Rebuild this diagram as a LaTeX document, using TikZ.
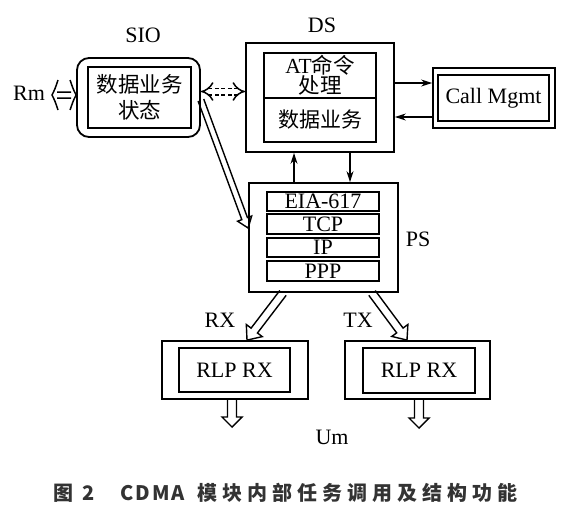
\documentclass[tikz,border=0pt]{standalone}
\usepackage{fontspec}
\setmainfont{Liberation Serif}
\newfontfamily\cjk{Noto Sans CJK SC}
\newfontfamily\capA[LetterSpace=25]{Noto Sans CJK SC}
\newfontfamily\capB[LetterSpace=10]{Noto Sans CJK SC}
\usetikzlibrary{arrows.meta,calc}
\newcommand\hollowarrow[5]{%
 \draw[harrow] let \p1=(#1), \p2=(#2), \n1={atan2(\y2-\y1,\x2-\x1)} in
 ($(\p1)+(\n1+90:#3)$) -- ($(\p2)+(\n1+180:#5)+(\n1+90:#3)$) -- ($(\p2)+(\n1+180:#5)+(\n1+90:#4)$) -- (\p2) -- ($(\p2)+(\n1+180:#5)+(\n1-90:#4)$) -- ($(\p2)+(\n1+180:#5)+(\n1-90:#3)$) -- ($(\p1)+(\n1-90:#3)$);}
\tikzset{
  obox/.style={draw, line width=1.8pt, inner sep=0pt},
  ibox/.style={draw, line width=1.8pt, inner sep=0pt},
  lat/.style={font=\fontsize{22}{23}\selectfont},
  zh/.style={font=\cjk\fontsize{21}{22}\selectfont},
  harrow/.style={draw, line width=1.4pt, line join=miter},
  sarrow/.style={draw, line width=1.4pt, -{Stealth[length=11pt,width=7pt]}},
  stackrow/.style={ibox, minimum width=112pt, minimum height=19.5pt, lat},
}
\begin{document}
\begin{tikzpicture}[x=1pt,y=-1pt]
\useasboundingbox (0,0) rectangle (569,517);
% labels
\node[lat] (lsio) at (143,35) {SIO};
\node[lat] (lds) at (322,25) {DS};
\node[lat] (lrm) at (29,93) {Rm};
\node[lat] (lps) at (418,239) {PS};
\node[lat] (lrx) at (220,320) {RX};
\node[lat] (ltx) at (358,320) {TX};
\node[lat] (lum) at (332,437) {Um};
% SIO
\node[obox, rounded corners=12pt, minimum width=123pt, minimum height=79pt] (sioO) at (138.5,97.5) {};
\node[ibox, minimum width=103pt, minimum height=61pt, align=center, font=\cjk\fontsize{21.5}{26}\selectfont] (sioI) at (139.5,97.5) {数据业务\\状态};
% DS
\node[obox, minimum width=148pt, minimum height=109pt] (dsO) at (320,97.5) {};
\node[ibox, minimum width=112pt, minimum height=45pt, align=center, font=\fontsize{21.5}{20}\selectfont] (dsA) at (320,75.5) {AT{\cjk 命令}\\{\cjk 处理}};
\node[ibox, minimum width=112pt, minimum height=44pt, zh] (dsB) at (320,120) {数据业务};
% Call Mgmt
\node[obox, minimum width=122pt, minimum height=60pt] (cmO) at (494,98) {};
\node[ibox, minimum width=111pt, minimum height=46pt, lat] (cmI) at (493.5,98) {Call Mgmt};
% PS
\node[obox, minimum width=149pt, minimum height=109pt] (psO) at (323.5,237.5) {};
\node[stackrow] (r1) at (323,201.5) {EIA-617};
\node[stackrow] (r2) at (323,224) {TCP};
\node[stackrow] (r3) at (323,247.5) {IP};
\node[stackrow] (r4) at (323,271) {PPP};
% RLP
\node[obox, minimum width=146pt, minimum height=58pt] (rlpLO) at (235,370) {};
\node[ibox, minimum width=111pt, minimum height=44pt, lat] (rlpLI) at (234.5,370) {RLP RX};
\node[obox, minimum width=145pt, minimum height=58pt] (rlpRO) at (417.5,370) {};
\node[ibox, minimum width=112pt, minimum height=45pt, lat] (rlpRI) at (419,370.5) {RLP RX};
% caption
\node[anchor=west, inner sep=0pt, font=\bfseries\fontsize{20}{22}\selectfont, text=black!80] (cap) at (53,493) {{\capA 图}\hspace{9pt}{\capB 2}\hspace{26pt}{\capB CDMA}\hspace{12pt}{\capA 模块内部任务调用及结构功能}};
% coordinates
\coordinate (rmtip) at (52,95);
\coordinate (umL) at (232,427);
\coordinate (umR) at (419,428);
% solid arrows
\draw[sarrow] ([yshift=14.5pt]dsO.east) -- ([yshift=14.5pt]dsO.east -| cmO.west);
\draw[sarrow] ([yshift=-19.5pt]dsO.east -| cmO.west) -- ([yshift=-19.5pt]dsO.east);
\draw[sarrow] ([xshift=-29.5pt]psO.north) -- ([xshift=-29.5pt]psO.north |- dsO.south);
\draw[sarrow] ([xshift=26.5pt]psO.north |- dsO.south) -- ([xshift=26.5pt]psO.north);
% Rm double-headed hollow arrow
\draw[harrow, line width=1.5pt] let \p1=(rmtip), \p2=([yshift=2.5pt]sioO.west) in
  (\x1+5pt,\y1+3pt) -- (\x2-5pt,\y1+3pt)
  (\x1+5pt,\y1-3pt) -- (\x2-5pt,\y1-3pt)
  (\x1+6pt,\y1+15pt) .. controls (\x1+3pt,\y1+6pt) .. (\x1,\y1) .. controls (\x1+3pt,\y1-6pt) .. (\x1+6pt,\y1-15pt)
  (\x2-6pt,\y1+15pt) .. controls (\x2-3pt,\y1+6pt) .. (\x2,\y1) .. controls (\x2-3pt,\y1-6pt) .. (\x2-6pt,\y1-15pt);
% dashed double arrow
\draw[line width=1.5pt, dashed, dash pattern=on 4pt off 2.5pt, double, double distance=5pt, {Implies}-{Implies}] ([yshift=6pt]sioO.east) -- ([yshift=6pt]sioO.east -| dsO.west);
% hollow arrows
\hollowarrow{[yshift=-2.5pt]sioO.east}{[yshift=9.5pt]psO.west}{3pt}{7.5pt}{10pt}
\hollowarrow{[xshift=-40.5pt]psO.south}{[xshift=12pt]rlpLO.north}{4pt}{10pt}{12pt}
\hollowarrow{[xshift=48.5pt]psO.south}{[xshift=-10.5pt]rlpRO.north}{4pt}{10pt}{12pt}
\hollowarrow{[xshift=-3pt]rlpLO.south}{umL}{4.5pt}{10pt}{10pt}
\hollowarrow{[xshift=1.5pt]rlpRO.south}{umR}{4.5pt}{10pt}{10pt}
\end{tikzpicture}
\end{document}
